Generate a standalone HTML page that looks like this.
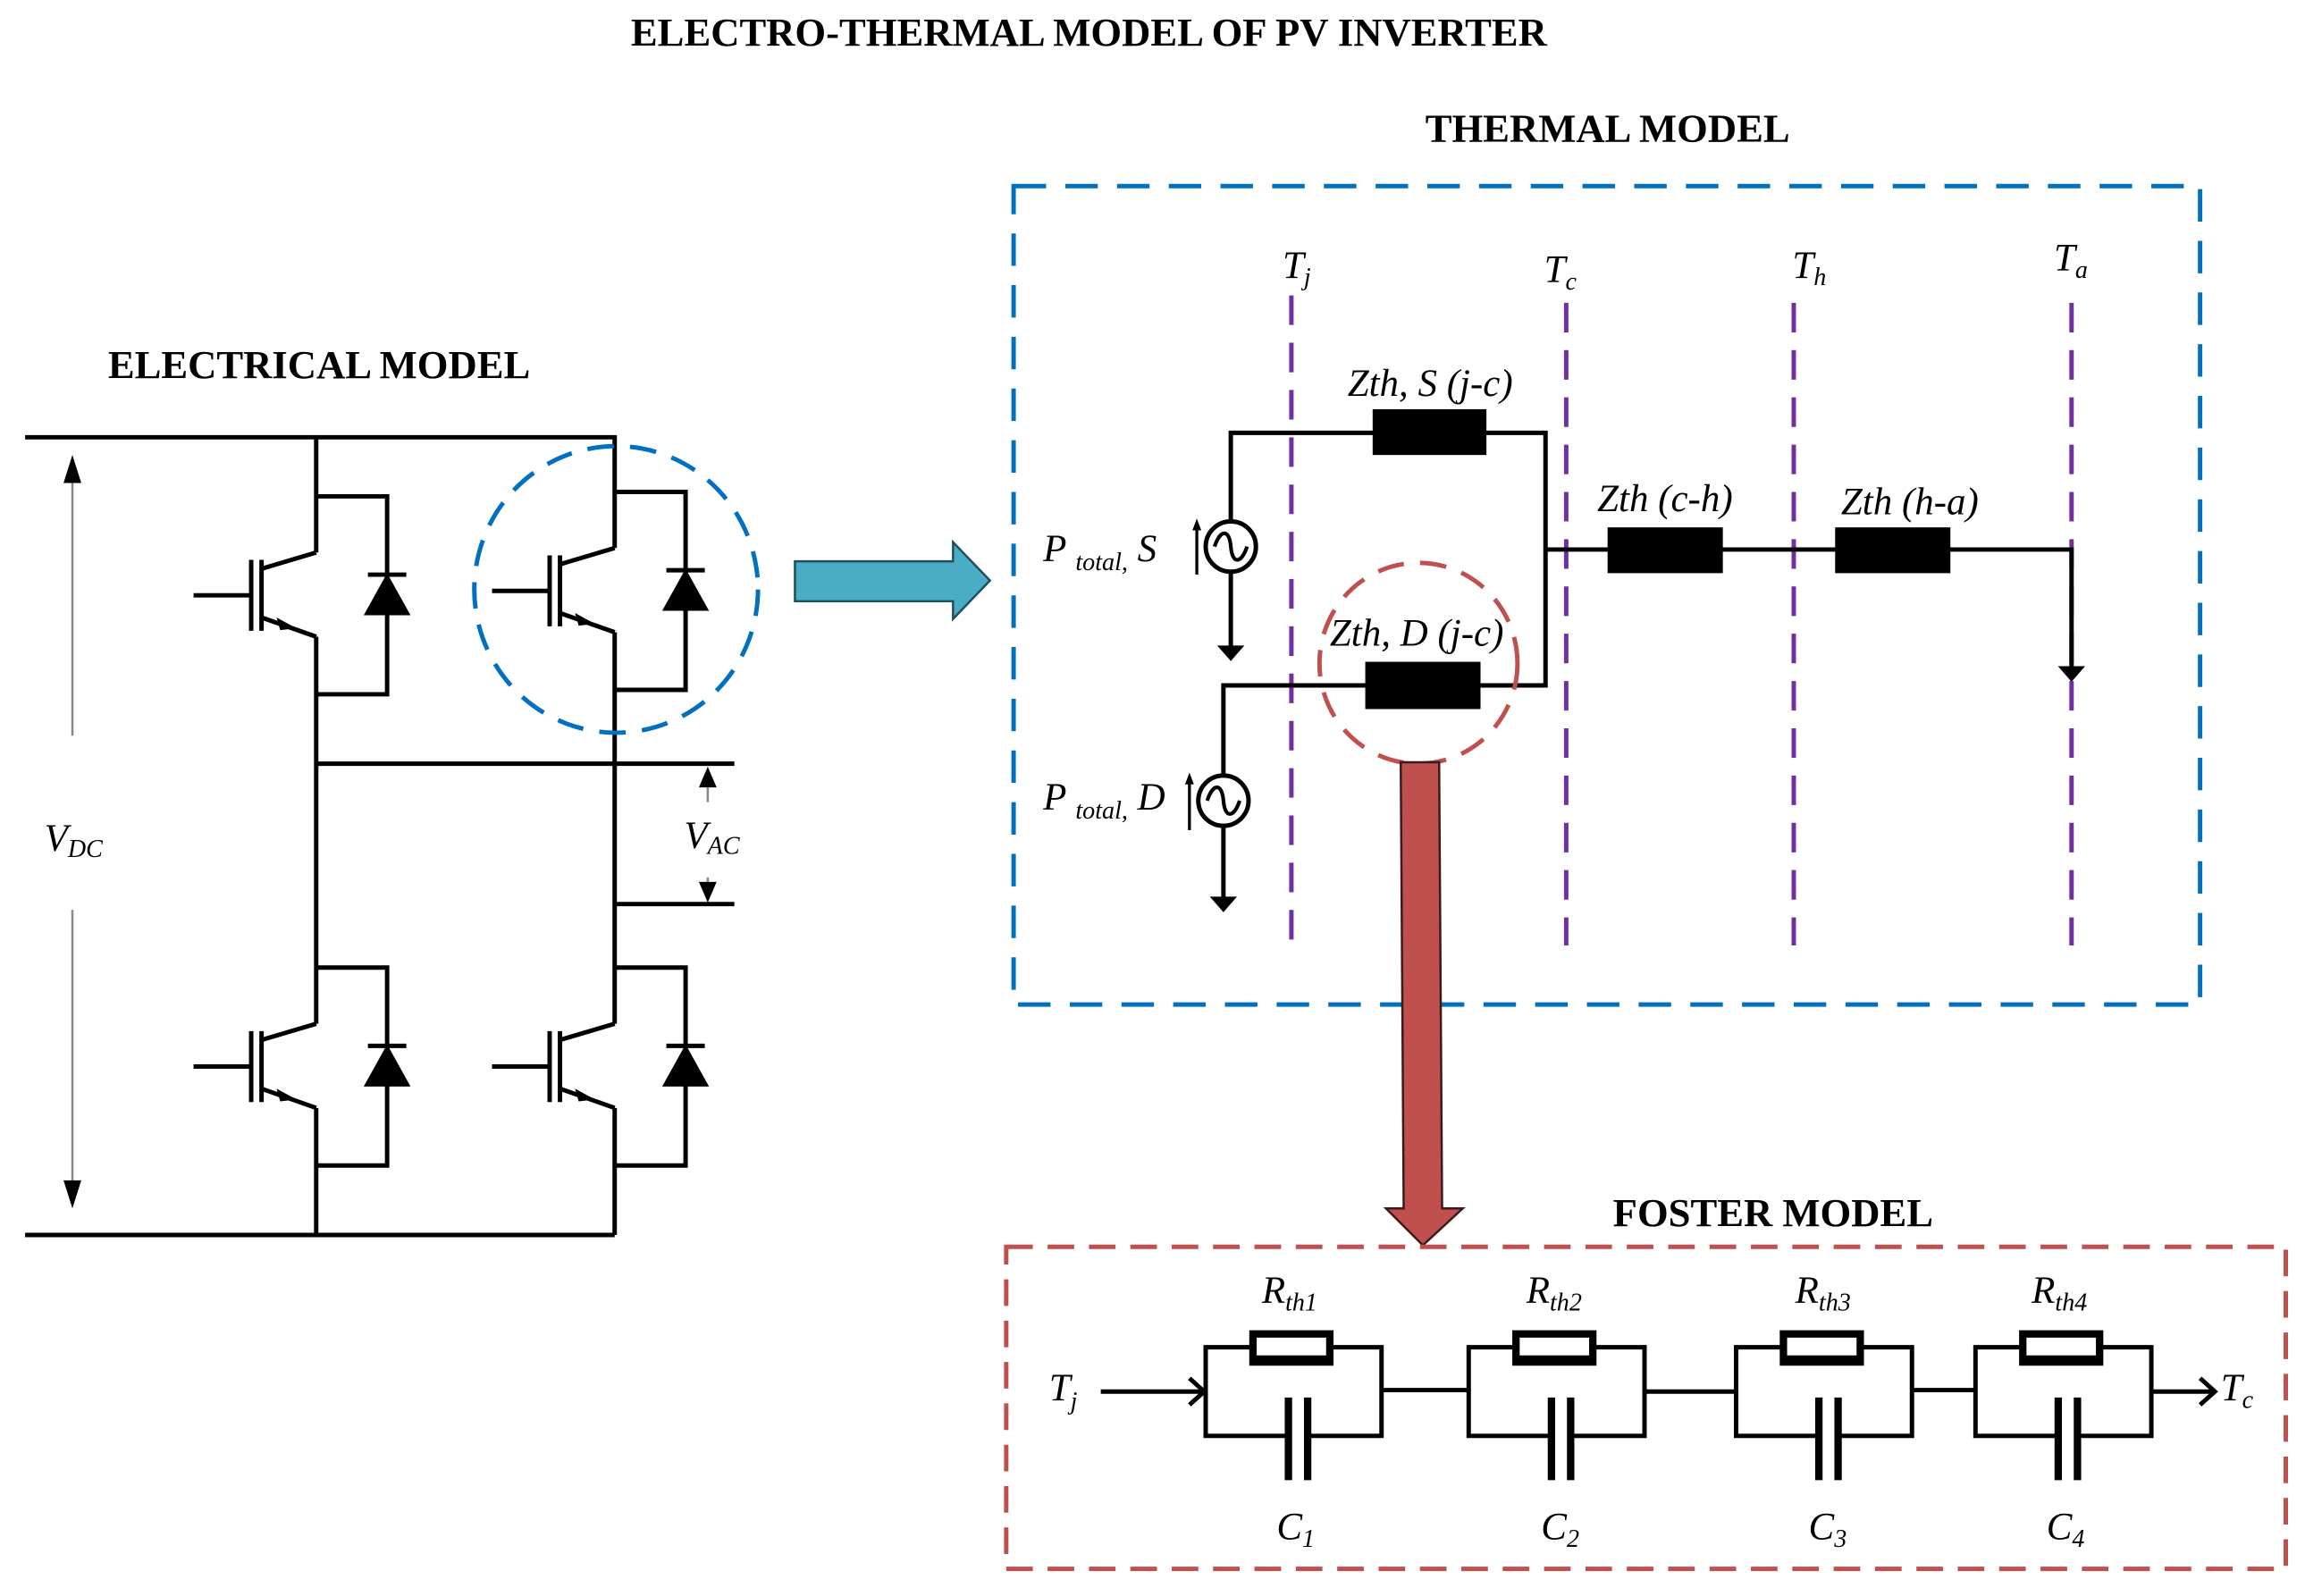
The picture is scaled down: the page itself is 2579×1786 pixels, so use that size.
<!DOCTYPE html>
<html><head><meta charset="utf-8"><style>
html,body{margin:0;padding:0;background:#fff;}
svg{display:block;}
text{font-family:"Liberation Serif",serif;}
.t{font-weight:bold;font-size:27px;}
.l{font-style:italic;font-size:26px;}
</style></head><body>
<svg width="2579" height="1786" viewBox="0 0 1560 1080.4" preserveAspectRatio="none" xmlns="http://www.w3.org/2000/svg">
<defs>
<g id="ig" stroke="#000" stroke-width="3" fill="none">
  <path d="M0 0 H48 V134 H0"/>
  <path d="M0 38 L-37 49"/>
  <path d="M-37 82 L0 95"/>
  <path d="M-44 43 V91 M-37 43 V91"/>
  <path d="M-83 67 H-44"/>
  <path d="M48 53 L33 80 H63 Z" fill="#000" stroke-width="1"/>
  <path d="M35 53 H61"/>
  <path d="M-15 89 L-26 83 L-24 90 Z" fill="#000" stroke-width="1"/>
</g>
<g id="gnd" fill="#000" stroke="#000" stroke-width="2">
  <path d="M-7 0 H7 L0 8 Z"/>
</g>
<g id="cell" stroke="#000" fill="none">
  <path d="M0 31 V60 H54 M67 60 H119 V0 H84 M32 0 H0 V31" stroke-width="3"/>
  <rect x="32" y="-9" width="52" height="19" fill="#fff" stroke-width="5"/>
  <path d="M32 8 H84" stroke-width="5"/>
  <path d="M56 34 V90 M69 34 V90" stroke-width="5"/>
</g>
</defs>

<text class="t" x="737" y="31" text-anchor="middle">ELECTRO-THERMAL MODEL OF PV INVERTER</text>
<text class="t" x="1088" y="96" text-anchor="middle">THERMAL MODEL</text>
<text class="t" x="216" y="256" text-anchor="middle">ELECTRICAL MODEL</text>
<text class="t" x="1200" y="830" text-anchor="middle">FOSTER MODEL</text>

<!-- Electrical model -->
<g stroke="#000" stroke-width="3" fill="none">
  <path d="M17 296 H416 V371"/>
  <path d="M17 836 H416"/>
  <path d="M214 296 V374 M214 431 V693 M214 750 V836"/>
  <path d="M416 428 V693 M416 750 V836"/>
  <path d="M214 517 H497 M416 612 H497"/>
</g>
<use href="#ig" x="214" y="336"/>
<use href="#ig" x="416" y="333"/>
<use href="#ig" x="214" y="655"/>
<use href="#ig" x="416" y="655"/>
<g stroke="#888" stroke-width="1.5">
  <path d="M49 325 V498 M49 616 V800"/>
  <path d="M479 530 V543 M479 594 V600"/>
</g>
<path d="M49 308 L43 327 H55 Z M49 818 L43 799 H55 Z" fill="#000"/>
<path d="M479 519 L473 533 H485 Z M479 611 L473 597 H485 Z" fill="#000"/>
<text class="l" x="30" y="576">V<tspan font-size="17" dy="4">DC</tspan></text>
<text class="l" x="463" y="574">V<tspan font-size="17" dy="4">AC</tspan></text>
<ellipse cx="417" cy="399" rx="96" ry="97" fill="none" stroke="#0070c0" stroke-width="3" stroke-dasharray="18 11"/>

<!-- blue arrow -->
<path d="M538 380 H645 V367 L670 393 L645 419 V407 H538 Z" fill="#4bacc6" stroke="#1f4e5f" stroke-width="1.5"/>

<!-- Thermal model -->
<rect x="686" y="126" width="803" height="554" fill="none" stroke="#0070c0" stroke-width="3" stroke-dasharray="22 13"/>
<g stroke="#7030a0" stroke-width="3" stroke-dasharray="20 12">
  <path d="M874 200 V640 M1060 205 V640 M1214 205 V640 M1402 205 V640"/>
</g>
<g stroke="#000" stroke-width="3" fill="none">
  <path d="M833 353 V293 H1046 V464 H828 V525"/>
  <path d="M1046 372 H1402 V455"/>
  <path d="M833 387 V438"/>
  <path d="M828 559 V608"/>
  <circle cx="833" cy="370" r="17"/>
  <circle cx="828" cy="542" r="17"/>
  <path d="M822 370 C826 358 832 358 833 370 C834 382 840 382 844 370" stroke-width="2.5"/>
  <path d="M817 542 C821 530 827 530 828 542 C829 554 835 554 839 542" stroke-width="2.5"/>
  <path d="M810 389 V355 M805 562 V527" stroke-width="2"/>
</g>
<path d="M810 351 L807 359 H813 Z M805 523 L802 531 H808 Z" fill="#000"/>
<use href="#gnd" x="833" y="438"/>
<use href="#gnd" x="828" y="608"/>
<use href="#gnd" x="1402" y="452"/>
<rect x="929" y="277" width="77" height="31" fill="#000"/>
<rect x="924" y="448" width="78" height="32" fill="#000"/>
<rect x="1088" y="357" width="78" height="31" fill="#000"/>
<rect x="1242" y="357" width="78" height="31" fill="#000"/>
<text class="l" x="706" y="380">P <tspan font-size="17" dy="6">total,</tspan><tspan dy="-6"> S</tspan></text>
<text class="l" x="706" y="548">P <tspan font-size="17" dy="6">total,</tspan><tspan dy="-6"> D</tspan></text>
<text class="l" x="912" y="268">Zth, S (j-c)</text>
<text class="l" x="900" y="437">Zth, D (j-c)</text>
<text class="l" x="1081" y="346">Zth (c-h)</text>
<text class="l" x="1246" y="348">Zth (h-a)</text>
<text class="l" x="868" y="188">T<tspan font-size="17" dy="5">j</tspan></text>
<text class="l" x="1045" y="191">T<tspan font-size="17" dy="5">c</tspan></text>
<text class="l" x="1213" y="188">T<tspan font-size="17" dy="5">h</tspan></text>
<text class="l" x="1390" y="183">T<tspan font-size="17" dy="5">a</tspan></text>
<ellipse cx="960" cy="449" rx="67" ry="68" fill="none" stroke="#c0504d" stroke-width="3" stroke-dasharray="18 11"/>

<!-- red arrow -->
<path d="M948 516 H974 L976 818 H990 L963 843 L938 818 H950 Z" fill="#c0504d" stroke="#3a1a1a" stroke-width="1.5"/>

<!-- Foster model -->
<rect x="681" y="844" width="866" height="218" fill="none" stroke="#c0504d" stroke-width="3" stroke-dasharray="18 10"/>
<use href="#cell" x="816" y="912"/>
<use href="#cell" x="994" y="912"/>
<use href="#cell" x="1175" y="912"/>
<use href="#cell" x="1337" y="912"/>
<g stroke="#000" stroke-width="3" fill="none">
  <path d="M745 942 H814"/>
  <path d="M805 933 L815 942 L805 951"/>
  <path d="M935 941 H994 M1113 942 H1175 M1294 941 H1337"/>
  <path d="M1456 942 H1498"/>
  <path d="M1489 933 L1499 942 L1489 951"/>
</g>
<text class="l" x="854" y="882">R<tspan font-size="17" dy="5">th1</tspan></text>
<text class="l" x="1033" y="882">R<tspan font-size="17" dy="5">th2</tspan></text>
<text class="l" x="1215" y="882">R<tspan font-size="17" dy="5">th3</tspan></text>
<text class="l" x="1375" y="882">R<tspan font-size="17" dy="5">th4</tspan></text>
<text class="l" x="864" y="1042">C<tspan font-size="17" dy="5">1</tspan></text>
<text class="l" x="1043" y="1042">C<tspan font-size="17" dy="5">2</tspan></text>
<text class="l" x="1224" y="1042">C<tspan font-size="17" dy="5">3</tspan></text>
<text class="l" x="1385" y="1042">C<tspan font-size="17" dy="5">4</tspan></text>
<text class="l" x="710" y="948">T<tspan font-size="17" dy="6">j</tspan></text>
<text class="l" x="1503" y="948">T<tspan font-size="17" dy="5">c</tspan></text>
</svg>
</body></html>
